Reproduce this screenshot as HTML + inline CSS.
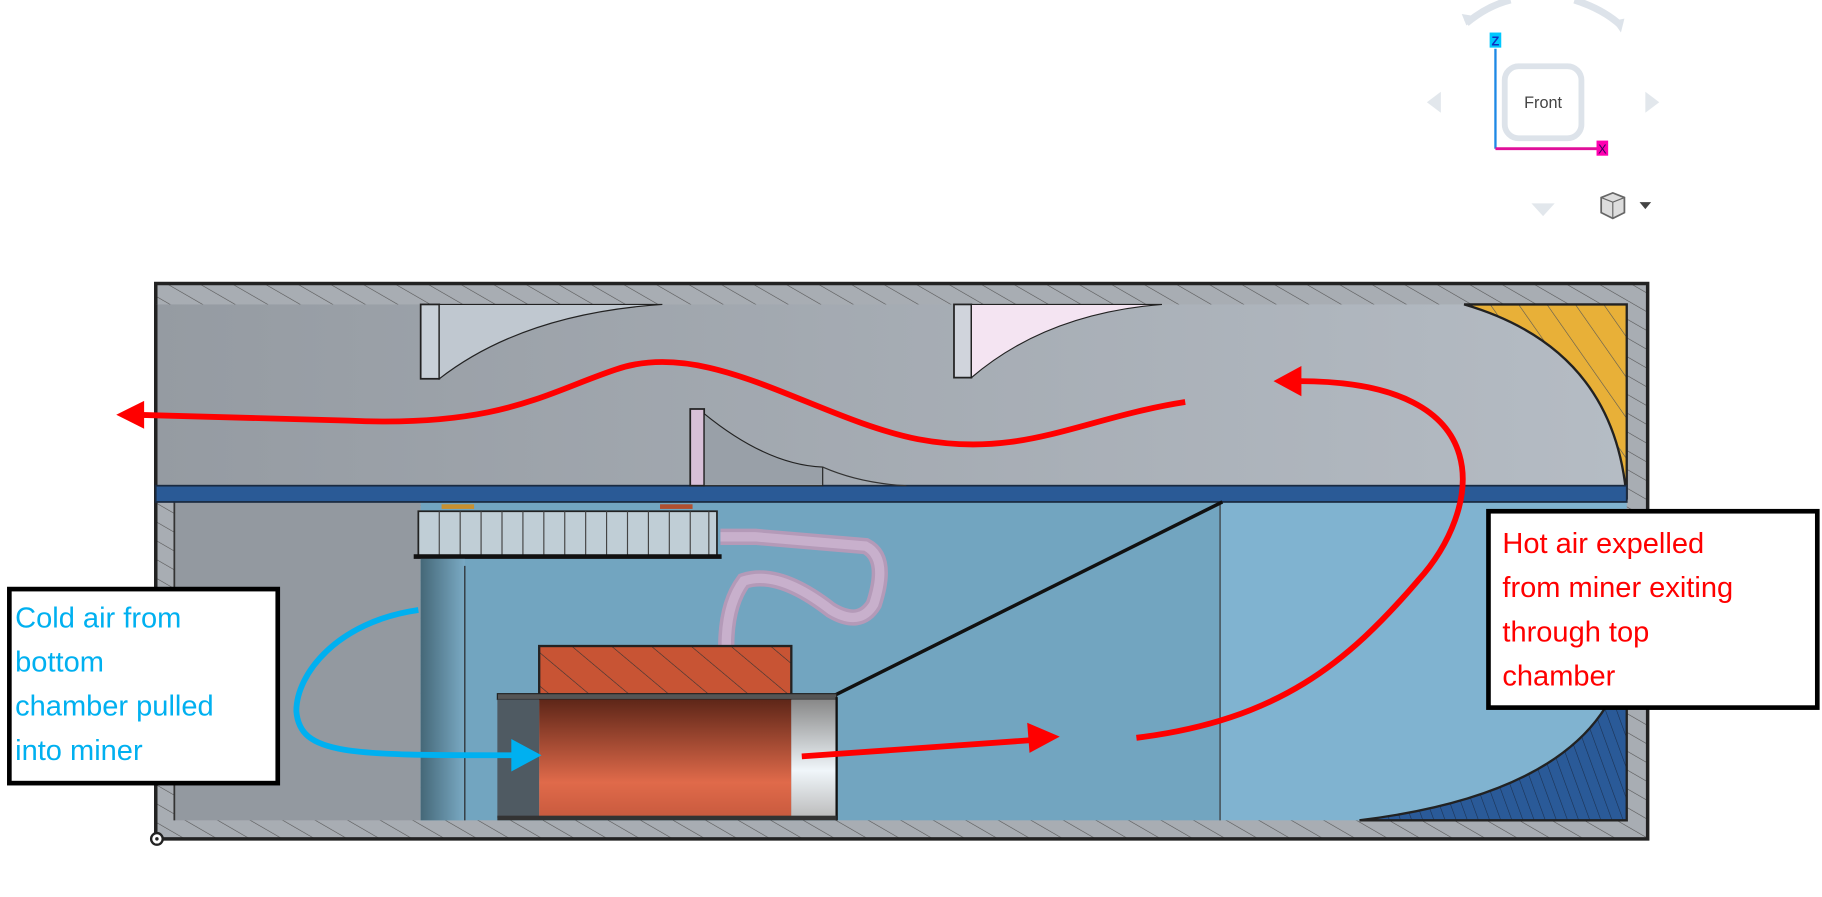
<!DOCTYPE html>
<html><head><meta charset="utf-8"><style>
html,body{margin:0;padding:0;background:#fff;width:1822px;height:897px;overflow:hidden}
svg{display:block}
text{font-family:"Liberation Sans",sans-serif}
</style></head><body>
<svg width="1822" height="897" viewBox="0 0 1568 772" xmlns="http://www.w3.org/2000/svg">
<defs>
<pattern id="hatch" width="14" height="14" patternUnits="userSpaceOnUse" patternTransform="rotate(-60)">
<rect width="14" height="14" fill="#a8adb3"/><line x1="0" y1="0" x2="0" y2="14" stroke="#555" stroke-width="1"/></pattern>
<pattern id="hatchO" width="22" height="22" patternUnits="userSpaceOnUse" patternTransform="rotate(-50)">
<rect width="22" height="22" fill="#c85434"/><line x1="0" y1="0" x2="0" y2="22" stroke="#333" stroke-width="1"/></pattern>
<pattern id="hatchY" width="20" height="20" patternUnits="userSpaceOnUse" patternTransform="rotate(-35)">
<rect width="20" height="20" fill="#e8b038"/><line x1="0" y1="0" x2="0" y2="20" stroke="#555" stroke-width="1"/></pattern>
<pattern id="hatchB" width="9" height="9" patternUnits="userSpaceOnUse" patternTransform="rotate(-20)">
<rect width="9" height="9" fill="#2a5a98"/><line x1="0" y1="0" x2="0" y2="9" stroke="#1a3050" stroke-width="1"/></pattern>
<linearGradient id="top" x1="0" x2="1"><stop offset="0" stop-color="#959ba2"/><stop offset="1" stop-color="#b5bcc4"/></linearGradient>
<linearGradient id="cyl" x1="0" y1="0" x2="0" y2="1"><stop offset="0" stop-color="#5e2618"/><stop offset="0.7" stop-color="#e06a4a"/><stop offset="1" stop-color="#c85a3e"/></linearGradient>
<linearGradient id="col" x1="0" x2="1"><stop offset="0" stop-color="#456878"/><stop offset="1" stop-color="#7aaac4"/></linearGradient>
<linearGradient id="lite" x1="0" y1="0" x2="0" y2="1"><stop offset="0" stop-color="#888"/><stop offset="0.6" stop-color="#f0f6fa"/><stop offset="1" stop-color="#bbb"/></linearGradient>
</defs>
<rect x="134" y="244" width="1284" height="478" fill="url(#hatch)" stroke="#222" stroke-width="3"/>
<rect x="134" y="262" width="1266" height="156" fill="url(#top)"/>
<line x1="134" y1="262" x2="134" y2="418" stroke="#222" stroke-width="3"/>
<path d="M1260 262 L1400 262 L1400 430 Q1390 300 1260 262 Z" fill="url(#hatchY)" stroke="#222" stroke-width="2"/>
<rect x="150" y="432" width="212" height="274" fill="#9399a0"/>
<rect x="362" y="432" width="688" height="274" fill="#72a5c0"/>
<rect x="1050" y="432" width="350" height="274" fill="#80b3d0"/>
<path d="M1170 706 Q1380 680 1400 560 L1400 706 Z" fill="url(#hatchB)" stroke="#222" stroke-width="2"/>
<line x1="1050" y1="432" x2="1050" y2="706" stroke="#333" stroke-width="1"/>
<line x1="150" y1="432" x2="150" y2="706" stroke="#333" stroke-width="1.5"/>
<rect x="134" y="418" width="1266" height="14" fill="#2a5a96" stroke="#1a2a40" stroke-width="1.5"/>
<line x1="715" y1="600" x2="1052" y2="432" stroke="#111" stroke-width="3"/>
<rect x="362" y="262" width="16" height="64" fill="#c8d0d8" stroke="#222" stroke-width="1.5"/>
<path d="M378 262 L570 262 Q450 270 378 326 Z" fill="#c0c8d0" stroke="#222" stroke-width="1"/>
<rect x="821" y="262" width="15" height="63" fill="#d0d4dc" stroke="#222" stroke-width="1.5"/>
<path d="M836 262 L1000 262 Q900 270 836 325 Z" fill="#f4e4f2" stroke="#222" stroke-width="1"/>
<rect x="594" y="352" width="12" height="66" fill="#d8c0d8" stroke="#222" stroke-width="1.5"/>
<path d="M606 356 Q660 400 708 402 L708 418 L606 418 Z" fill="#99a0a8" stroke="#222" stroke-width="1"/>
<path d="M708 402 Q740 416 780 418" fill="none" stroke="#333" stroke-width="1"/>
<rect x="360" y="440" width="257" height="38" fill="#c0ced6" stroke="#222" stroke-width="1.5"/>
<g stroke="#444" stroke-width="1">
<line x1="378" y1="440" x2="378" y2="478"/><line x1="396" y1="440" x2="396" y2="478"/><line x1="414" y1="440" x2="414" y2="478"/><line x1="432" y1="440" x2="432" y2="478"/><line x1="450" y1="440" x2="450" y2="478"/><line x1="468" y1="440" x2="468" y2="478"/><line x1="486" y1="440" x2="486" y2="478"/><line x1="504" y1="440" x2="504" y2="478"/><line x1="522" y1="440" x2="522" y2="478"/><line x1="540" y1="440" x2="540" y2="478"/><line x1="558" y1="440" x2="558" y2="478"/><line x1="576" y1="440" x2="576" y2="478"/><line x1="594" y1="440" x2="594" y2="478"/><line x1="610" y1="440" x2="610" y2="478"/>
</g>
<rect x="356" y="477" width="265" height="4" fill="#111"/>
<rect x="380" y="434" width="28" height="4" fill="#c89030"/><rect x="568" y="434" width="28" height="4" fill="#b05030"/>
<rect x="362" y="481" width="38" height="225" fill="url(#col)"/>
<line x1="400" y1="487" x2="400" y2="706" stroke="#222"/>
<path d="M620 462 L650 462 L745 470 Q765 480 752 520 Q740 540 715 525 Q670 490 640 500 Q625 520 625 556" fill="none" stroke="#b49ab8" stroke-width="14"/>
<path d="M620 462 L650 462 L745 470 Q765 480 752 520 Q740 540 715 525 Q670 490 640 500 Q625 520 625 556" fill="none" stroke="#c8b0cc" stroke-width="8"/>
<rect x="464" y="556" width="217" height="44" fill="url(#hatchO)" stroke="#222" stroke-width="2"/>
<rect x="428" y="597" width="292" height="5" fill="#555" stroke="#222"/>
<rect x="428" y="602" width="36" height="102" fill="#4f5a62"/>
<rect x="464" y="602" width="217" height="102" fill="url(#cyl)"/>
<rect x="681" y="602" width="39" height="102" fill="url(#lite)"/>
<line x1="720" y1="600" x2="720" y2="706" stroke="#111" stroke-width="2"/>
<rect x="428" y="702" width="292" height="4" fill="#333"/>
<g fill="none" stroke="#ff0000" stroke-width="5" stroke-linecap="butt">
<path d="M1020 346 C930 360 880 395 790 378 C700 360 610 290 530 318 C470 338 430 368 300 362 L118 357"/>
<path d="M978 635 C1100 620 1160 570 1220 500 C1275 440 1295 328 1118 328"/>
<path d="M690 651 L888 637"/>
</g>
<polygon points="100,357 124,345 124,369" fill="#ff0000"/>
<polygon points="1096,328 1120,315 1120,341" fill="#ff0000"/>
<polygon points="912,634 884,622 886,648" fill="#ff0000"/>
<path d="M360 525 C290 535 255 580 255 612 C258 650 300 650 442 650" fill="none" stroke="#00b0f0" stroke-width="5"/>
<polygon points="466,650 440,636 440,664" fill="#00b0f0"/>
<rect x="8" y="507" width="231" height="167" fill="#fff" stroke="#000" stroke-width="4"/>
<text font-size="25" fill="#00b0f0"><tspan x="13" y="540">Cold air from</tspan><tspan x="13" y="578">bottom</tspan><tspan x="13" y="616">chamber pulled</tspan><tspan x="13" y="654">into miner</tspan></text>
<rect x="1281" y="440" width="283" height="169" fill="#fff" stroke="#000" stroke-width="4"/>
<text font-size="25" fill="#ff0000"><tspan x="1293" y="476">Hot air expelled</tspan><tspan x="1293" y="514">from miner exiting</tspan><tspan x="1293" y="552">through top</tspan><tspan x="1293" y="590">chamber</tspan></text>
<circle cx="135" cy="722" r="5" fill="#fff" stroke="#222" stroke-width="2"/><circle cx="135" cy="722" r="1.5" fill="#222"/>
<path d="M1262 20 Q1280 5 1300 0" fill="none" stroke="#dde3ea" stroke-width="6"/>
<path d="M1355 0 Q1380 8 1395 22" fill="none" stroke="#dde3ea" stroke-width="6"/>
<polygon points="1262,22 1258,12 1270,14" fill="#dde3ea"/><polygon points="1395,28 1398,16 1388,18" fill="#dde3ea"/>
<rect x="1295" y="57" width="66" height="62" rx="12" fill="#fff" stroke="#dde3ea" stroke-width="5"/>
<text x="1328" y="93" font-size="14" fill="#444" text-anchor="middle">Front</text>
<line x1="1287" y1="42" x2="1287" y2="128" stroke="#1e88e5" stroke-width="2"/>
<line x1="1287" y1="128" x2="1376" y2="128" stroke="#e0109a" stroke-width="2.5"/>
<rect x="1282" y="28" width="10" height="13" fill="#00c8ff"/><text x="1287" y="39" font-size="11" fill="#1030c0" text-anchor="middle" font-weight="bold">Z</text>
<rect x="1374" y="121" width="10" height="13" fill="#ff00b0"/><text x="1379" y="132" font-size="11" fill="#400060" text-anchor="middle">X</text>
<polygon points="1228,88 1240,79 1240,97" fill="#e2e7ec"/>
<polygon points="1428,88 1416,79 1416,97" fill="#e2e7ec"/>
<polygon points="1318,175 1338,175 1328,186" fill="#e2e7ec"/>
<path d="M1378 170 L1388 166 L1398 170 L1398 183 L1388 188 L1378 183 Z" fill="#ddd" stroke="#666" stroke-width="1.5"/>
<path d="M1378 170 L1388 174 L1398 170 M1388 174 L1388 188" fill="none" stroke="#666"/>
<polygon points="1411,174 1421,174 1416,180" fill="#444"/>
</svg>
</body></html>
